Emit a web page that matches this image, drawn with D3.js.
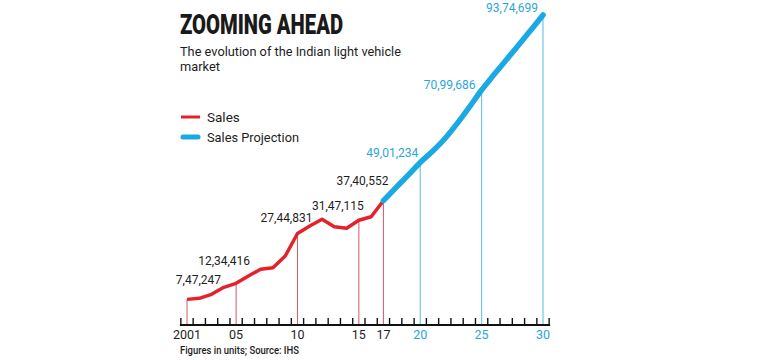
<!DOCTYPE html>
<html>
<head>
<meta charset="utf-8">
<script src="https://cdn.jsdelivr.net/npm/d3@7"></script>
<style>
  html, body { margin: 0; padding: 0; background: #fff; }
  svg { display: block; font-family: Roboto, "Noto Sans", sans-serif; }
</style>
</head>
<body>
<svg id="chart" width="770" height="360"></svg>
<script>
// ---- data ----
const salesYears = [2001,2002,2003,2004,2005,2006,2007,2008,2009,2010,2011,2012,2013,2014,2015,2016,2017];
const salesValues = [747247,780000,901000,1113000,1234416,1456000,1660000,1708000,2063000,2744831,2973000,3176000,2952000,2903000,3147115,3255000,3740552];
const projYears = [2017,2018,2019,2020,2021,2022,2023,2024,2025,2026,2027,2028,2029,2030];
const projValues = [3740552,4130000,4510000,4901234,5240000,5620000,6080000,6580000,7099686,7560000,8010000,8460000,8910000,9374699];
const salesMarked = [2001,2005,2010,2015,2017];
const projMarked = [2020,2025,2030];
const salesLabels = ["7,47,247","12,34,416","27,44,831","31,47,115","37,40,552"];
const projLabels = ["49,01,234","70,99,686","93,74,699"];
const tickLabels = ["2001","05","10","15","17","20","25","30"];
const tickLabelYears = [2001,2005,2010,2015,2017,2020,2025,2030];

// ---- layout ----
const RED = "#e3222b", BLUE = "#1aa9e2", RED_THIN = "#d45a63", BLUE_THIN = "#72c6e6", BLUE_TEXT = "#2ba6db", DARK = "#1e1e1e";
const svg = d3.select("#chart");
const x = d3.scaleLinear().domain([2001, 2030]).range([187, 543]);
const y = d3.scaleLinear().domain([0, 9374699]).range([324, 15]);
const axisY = 325;

const salesData = salesYears.map((yr, i) => ({yr, v: salesValues[i]}));
const projData = projYears.map((yr, i) => ({yr, v: projValues[i]}));
const valOf = (data, yr) => data.find(d => d.yr === yr).v;

// title
svg.append("text").attr("x", 180).attr("y", 33.5)
  .attr("font-size", 27.5).attr("font-weight", 900).attr("fill", "#1a1a1a")
  .attr("textLength", 163).attr("lengthAdjust", "spacingAndGlyphs")
  .text("ZOOMING AHEAD");
svg.append("text").attr("x", 180).attr("y", 56)
  .attr("font-size", 13).attr("fill", DARK)
  .attr("textLength", 221).attr("lengthAdjust", "spacingAndGlyphs")
  .text("The evolution of the Indian light vehicle");
svg.append("text").attr("x", 180).attr("y", 71)
  .attr("font-size", 13).attr("fill", DARK)
  .attr("textLength", 40).attr("lengthAdjust", "spacingAndGlyphs")
  .text("market");

// legend
svg.append("line").attr("x1", 181).attr("x2", 200).attr("y1", 117).attr("y2", 117)
  .attr("stroke", RED).attr("stroke-width", 3);
svg.append("line").attr("x1", 183).attr("x2", 198).attr("y1", 137).attr("y2", 137)
  .attr("stroke", BLUE).attr("stroke-width", 5).attr("stroke-linecap", "round");
svg.append("text").attr("x", 207).attr("y", 122).attr("font-size", 13.5).attr("fill", DARK).text("Sales");
svg.append("text").attr("x", 207).attr("y", 142).attr("font-size", 13.5).attr("fill", DARK)
  .attr("textLength", 92).attr("lengthAdjust", "spacingAndGlyphs").text("Sales Projection");

// drop lines
svg.append("g").selectAll("line").data(salesMarked).join("line")
  .attr("x1", d => x(d)).attr("x2", d => x(d))
  .attr("y1", d => y(valOf(salesData, d))).attr("y2", axisY)
  .attr("stroke", RED_THIN).attr("stroke-width", 1);
svg.append("g").selectAll("line").data(projMarked).join("line")
  .attr("x1", d => x(d)).attr("x2", d => x(d))
  .attr("y1", d => y(valOf(projData, d))).attr("y2", axisY)
  .attr("stroke", BLUE_THIN).attr("stroke-width", 1.2);

// axis
const tickYears = d3.range(2000.5, 2031, 1);
svg.append("line").attr("x1", x(2000.5) - 1).attr("x2", x(2030.5) + 1)
  .attr("y1", axisY).attr("y2", axisY).attr("stroke", "#111").attr("stroke-width", 2);
svg.append("g").selectAll("line").data(tickYears).join("line")
  .attr("x1", d => x(d)).attr("x2", d => x(d))
  .attr("y1", axisY).attr("y2", axisY - 7)
  .attr("stroke", "#111").attr("stroke-width", 1.4);
svg.append("g").selectAll("text").data(tickLabels).join("text")
  .attr("x", (d, i) => x(tickLabelYears[i]))
  .attr("y", 339).attr("text-anchor", "middle").attr("font-size", 12.5)
  .attr("fill", (d, i) => tickLabelYears[i] > 2017 ? BLUE_TEXT : DARK)
  .text(d => d);

// lines
svg.append("path").datum(salesData)
  .attr("d", d3.line().x(d => x(d.yr)).y(d => y(d.v)))
  .attr("fill", "none").attr("stroke", RED).attr("stroke-width", 3.5)
  .attr("stroke-linejoin", "round");
svg.append("path").datum(projData)
  .attr("d", d3.line().x(d => x(d.yr)).y(d => y(d.v)).curve(d3.curveCatmullRom.alpha(0.5)))
  .attr("fill", "none").attr("stroke", BLUE).attr("stroke-width", 5.5)
  .attr("stroke-linecap", "round").attr("stroke-linejoin", "round");

// value labels (offsets are layout only)
const salesLabelDx = [34, 14, 15, 5, 5];
const salesLabelDy = [-15, -18, -12, -10, -16];
svg.append("g").selectAll("text").data(salesLabels).join("text")
  .attr("x", (d, i) => x(salesMarked[i]) + salesLabelDx[i])
  .attr("y", (d, i) => y(valOf(salesData, salesMarked[i])) + salesLabelDy[i])
  .attr("text-anchor", "end").attr("font-size", 12).attr("fill", DARK)
  .text(d => d);
const projLabelDx = [-2, -6, -5];
const projLabelDy = [-5, -1, -3];
svg.append("g").selectAll("text").data(projLabels).join("text")
  .attr("x", (d, i) => x(projMarked[i]) + projLabelDx[i])
  .attr("y", (d, i) => y(valOf(projData, projMarked[i])) + projLabelDy[i])
  .attr("text-anchor", "end").attr("font-size", 12).attr("fill", BLUE_TEXT)
  .text(d => d);

// footer
svg.append("text").attr("x", 180).attr("y", 354)
  .attr("font-size", 10.5).attr("font-weight", 500).attr("fill", DARK)
  .attr("textLength", 119).attr("lengthAdjust", "spacingAndGlyphs")
  .text("Figures in units; Source: IHS");
</script>
</body>
</html>
